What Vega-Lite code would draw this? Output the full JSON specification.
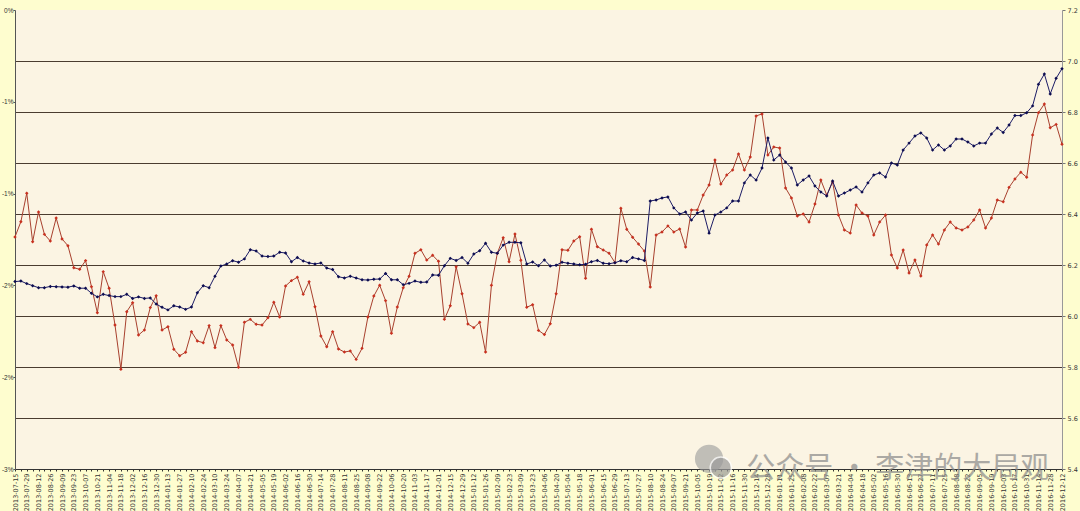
{
  "$schema": "https://vega.github.io/schema/vega-lite/v6.json",
  "width": 1047,
  "height": 459,
  "autosize": {"type": "none"},
  "padding": {"left": 15, "top": 10, "right": 18, "bottom": 42},
  "background": "#fefdcf",
  "config": {
    "view": {"fill": "#fbf4e3", "stroke": null},
    "axis": {"title": null, "labelFont": "DejaVu Sans", "labelFontSize": 6.5, "labelColor": "#333333", "domainColor": "#555555", "tickColor": "#555555", "tickSize": 3, "labelPadding": 2}
  },
  "data": {"values": [
    {"d":"2013-07-15","c":6.135,"r":-1.236},{"d":"2013-07-22","c":6.137,"r":-1.153},{"d":"2013-07-29","c":6.127,"r":-0.998},{"d":"2013-08-05","c":6.119,"r":-1.262},{"d":"2013-08-12","c":6.111,"r":-1.100},
    {"d":"2013-08-19","c":6.111,"r":-1.222},{"d":"2013-08-26","c":6.116,"r":-1.258},{"d":"2013-09-02","c":6.115,"r":-1.133},{"d":"2013-09-09","c":6.114,"r":-1.247},{"d":"2013-09-16","c":6.113,"r":-1.284},
    {"d":"2013-09-23","c":6.118,"r":-1.404},{"d":"2013-09-30","c":6.109,"r":-1.412},{"d":"2013-10-07","c":6.109,"r":-1.365},{"d":"2013-10-14","c":6.089,"r":-1.507},{"d":"2013-10-21","c":6.075,"r":-1.649},
    {"d":"2013-10-28","c":6.085,"r":-1.425},{"d":"2013-11-04","c":6.080,"r":-1.516},{"d":"2013-11-11","c":6.076,"r":-1.716},{"d":"2013-11-18","c":6.076,"r":-1.957},{"d":"2013-11-25","c":6.085,"r":-1.643},
    {"d":"2013-12-02","c":6.069,"r":-1.594},{"d":"2013-12-09","c":6.075,"r":-1.770},{"d":"2013-12-16","c":6.069,"r":-1.743},{"d":"2013-12-23","c":6.071,"r":-1.621},{"d":"2013-12-30","c":6.047,"r":-1.556},
    {"d":"2014-01-06","c":6.034,"r":-1.743},{"d":"2014-01-13","c":6.024,"r":-1.725},{"d":"2014-01-20","c":6.040,"r":-1.848},{"d":"2014-01-27","c":6.035,"r":-1.883},{"d":"2014-02-03","c":6.026,"r":-1.864},
    {"d":"2014-02-10","c":6.035,"r":-1.752},{"d":"2014-02-17","c":6.091,"r":-1.803},{"d":"2014-02-24","c":6.119,"r":-1.812},{"d":"2014-03-03","c":6.111,"r":-1.719},{"d":"2014-03-10","c":6.156,"r":-1.839},
    {"d":"2014-03-17","c":6.196,"r":-1.719},{"d":"2014-03-24","c":6.204,"r":-1.797},{"d":"2014-03-31","c":6.217,"r":-1.825},{"d":"2014-04-07","c":6.211,"r":-1.946},{"d":"2014-04-14","c":6.224,"r":-1.701},
    {"d":"2014-04-21","c":6.260,"r":-1.685},{"d":"2014-04-28","c":6.255,"r":-1.712},{"d":"2014-05-05","c":6.235,"r":-1.716},{"d":"2014-05-12","c":6.233,"r":-1.676},{"d":"2014-05-19","c":6.235,"r":-1.592},
    {"d":"2014-05-26","c":6.250,"r":-1.672},{"d":"2014-06-02","c":6.247,"r":-1.503},{"d":"2014-06-09","c":6.213,"r":-1.474},{"d":"2014-06-16","c":6.229,"r":-1.456},{"d":"2014-06-23","c":6.216,"r":-1.548},
    {"d":"2014-06-30","c":6.208,"r":-1.480},{"d":"2014-07-07","c":6.204,"r":-1.616},{"d":"2014-07-14","c":6.208,"r":-1.776},{"d":"2014-07-21","c":6.188,"r":-1.834},{"d":"2014-07-28","c":6.182,"r":-1.752},
    {"d":"2014-08-04","c":6.154,"r":-1.846},{"d":"2014-08-11","c":6.149,"r":-1.863},{"d":"2014-08-18","c":6.156,"r":-1.857},{"d":"2014-08-25","c":6.149,"r":-1.903},{"d":"2014-09-01","c":6.142,"r":-1.843},
    {"d":"2014-09-08","c":6.141,"r":-1.672},{"d":"2014-09-15","c":6.144,"r":-1.558},{"d":"2014-09-22","c":6.145,"r":-1.499},{"d":"2014-09-29","c":6.167,"r":-1.583},{"d":"2014-10-06","c":6.142,"r":-1.761},
    {"d":"2014-10-13","c":6.142,"r":-1.618},{"d":"2014-10-20","c":6.123,"r":-1.513},{"d":"2014-10-27","c":6.128,"r":-1.450},{"d":"2014-11-03","c":6.137,"r":-1.325},{"d":"2014-11-10","c":6.132,"r":-1.306},
    {"d":"2014-11-17","c":6.133,"r":-1.362},{"d":"2014-11-24","c":6.161,"r":-1.336},{"d":"2014-12-01","c":6.160,"r":-1.369},{"d":"2014-12-08","c":6.197,"r":-1.685},{"d":"2014-12-15","c":6.226,"r":-1.611},
    {"d":"2014-12-22","c":6.218,"r":-1.398},{"d":"2014-12-29","c":6.229,"r":-1.545},{"d":"2015-01-05","c":6.207,"r":-1.710},{"d":"2015-01-12","c":6.243,"r":-1.730},{"d":"2015-01-19","c":6.256,"r":-1.701},
    {"d":"2015-01-26","c":6.285,"r":-1.863},{"d":"2015-02-02","c":6.250,"r":-1.499},{"d":"2015-02-09","c":6.246,"r":-1.325},{"d":"2015-02-16","c":6.278,"r":-1.240},{"d":"2015-02-23","c":6.289,"r":-1.371},
    {"d":"2015-03-02","c":6.289,"r":-1.220},{"d":"2015-03-09","c":6.287,"r":-1.363},{"d":"2015-03-16","c":6.204,"r":-1.619},{"d":"2015-03-23","c":6.212,"r":-1.605},{"d":"2015-03-30","c":6.197,"r":-1.745},
    {"d":"2015-04-06","c":6.220,"r":-1.768},{"d":"2015-04-13","c":6.196,"r":-1.709},{"d":"2015-04-20","c":6.199,"r":-1.545},{"d":"2015-04-27","c":6.211,"r":-1.306},{"d":"2015-05-04","c":6.207,"r":-1.309},
    {"d":"2015-05-11","c":6.204,"r":-1.258},{"d":"2015-05-18","c":6.201,"r":-1.235},{"d":"2015-05-25","c":6.203,"r":-1.461},{"d":"2015-06-01","c":6.213,"r":-1.194},{"d":"2015-06-08","c":6.218,"r":-1.289},
    {"d":"2015-06-15","c":6.207,"r":-1.307},{"d":"2015-06-22","c":6.205,"r":-1.325},{"d":"2015-06-29","c":6.209,"r":-1.376},{"d":"2015-07-06","c":6.217,"r":-1.080},{"d":"2015-07-13","c":6.213,"r":-1.194},
    {"d":"2015-07-20","c":6.229,"r":-1.238},{"d":"2015-07-27","c":6.224,"r":-1.275},{"d":"2015-08-03","c":6.218,"r":-1.313},{"d":"2015-08-10","c":6.451,"r":-1.509},{"d":"2015-08-17","c":6.455,"r":-1.225},
    {"d":"2015-08-24","c":6.463,"r":-1.209},{"d":"2015-08-31","c":6.467,"r":-1.176},{"d":"2015-09-07","c":6.424,"r":-1.209},{"d":"2015-09-14","c":6.400,"r":-1.193},{"d":"2015-09-21","c":6.408,"r":-1.291},
    {"d":"2015-09-28","c":6.376,"r":-1.089},{"d":"2015-10-05","c":6.404,"r":-1.089},{"d":"2015-10-12","c":6.412,"r":-1.008},{"d":"2015-10-19","c":6.325,"r":-0.953},{"d":"2015-10-26","c":6.396,"r":-0.817},
    {"d":"2015-11-02","c":6.408,"r":-0.948},{"d":"2015-11-09","c":6.424,"r":-0.899},{"d":"2015-11-16","c":6.451,"r":-0.871},{"d":"2015-11-23","c":6.451,"r":-0.784},{"d":"2015-11-30","c":6.522,"r":-0.871},
    {"d":"2015-12-07","c":6.553,"r":-0.801},{"d":"2015-12-14","c":6.533,"r":-0.577},{"d":"2015-12-21","c":6.580,"r":-0.566},{"d":"2015-12-28","c":6.698,"r":-0.790},{"d":"2016-01-04","c":6.612,"r":-0.746},
    {"d":"2016-01-11","c":6.631,"r":-0.752},{"d":"2016-01-18","c":6.604,"r":-0.969},{"d":"2016-01-25","c":6.580,"r":-1.024},{"d":"2016-02-01","c":6.514,"r":-1.122},{"d":"2016-02-08","c":6.533,"r":-1.111},
    {"d":"2016-02-15","c":6.549,"r":-1.155},{"d":"2016-02-22","c":6.510,"r":-1.057},{"d":"2016-02-29","c":6.486,"r":-0.926},{"d":"2016-03-07","c":6.471,"r":-1.008},{"d":"2016-03-14","c":6.529,"r":-0.937},
    {"d":"2016-03-21","c":6.471,"r":-1.117},{"d":"2016-03-28","c":6.482,"r":-1.198},{"d":"2016-04-04","c":6.494,"r":-1.215},{"d":"2016-04-11","c":6.506,"r":-1.062},{"d":"2016-04-18","c":6.486,"r":-1.106},
    {"d":"2016-04-25","c":6.522,"r":-1.122},{"d":"2016-05-02","c":6.553,"r":-1.225},{"d":"2016-05-09","c":6.561,"r":-1.155},{"d":"2016-05-16","c":6.545,"r":-1.117},{"d":"2016-05-23","c":6.600,"r":-1.334},
    {"d":"2016-05-30","c":6.592,"r":-1.405},{"d":"2016-06-06","c":6.651,"r":-1.307},{"d":"2016-06-13","c":6.678,"r":-1.432},{"d":"2016-06-20","c":6.706,"r":-1.362},{"d":"2016-06-27","c":6.718,"r":-1.449},
    {"d":"2016-07-04","c":6.698,"r":-1.280},{"d":"2016-07-11","c":6.651,"r":-1.225},{"d":"2016-07-18","c":6.671,"r":-1.275},{"d":"2016-07-25","c":6.651,"r":-1.198},{"d":"2016-08-01","c":6.667,"r":-1.155},
    {"d":"2016-08-08","c":6.694,"r":-1.187},{"d":"2016-08-15","c":6.694,"r":-1.198},{"d":"2016-08-22","c":6.682,"r":-1.182},{"d":"2016-08-29","c":6.667,"r":-1.144},{"d":"2016-09-05","c":6.678,"r":-1.089},
    {"d":"2016-09-12","c":6.678,"r":-1.187},{"d":"2016-09-19","c":6.714,"r":-1.133},{"d":"2016-09-26","c":6.737,"r":-1.035},{"d":"2016-10-03","c":6.720,"r":-1.044},{"d":"2016-10-10","c":6.749,"r":-0.966},
    {"d":"2016-10-17","c":6.786,"r":-0.920},{"d":"2016-10-24","c":6.786,"r":-0.884},{"d":"2016-10-31","c":6.797,"r":-0.911},{"d":"2016-11-07","c":6.824,"r":-0.681},{"d":"2016-11-14","c":6.909,"r":-0.559},
    {"d":"2016-11-21","c":6.949,"r":-0.512},{"d":"2016-11-28","c":6.871,"r":-0.641},{"d":"2016-12-05","c":6.932,"r":-0.623},{"d":"2016-12-12","c":6.970,"r":-0.731}
  ]},
  "encoding": {
    "x": {
      "field": "d", "type": "ordinal", "sort": null,
      "scale": {"type": "point", "padding": 0},
      "axis": {
        "labelAngle": -90, "labelOverlap": false, "labelBound": false, "tickSize": 2,
        "domainColor": "#333333", "tickColor": "#333333",
        "labelExpr": "(round((toDate(datum.value) - toDate('2013-07-15')) / 604800000) % 2 == 0) ? datum.value : ''"
      }
    }
  },
  "layer": [
    {
      "encoding": {
        "y": {
          "field": "r", "type": "quantitative",
          "scale": {"domain": [-2.5, 0], "nice": false, "zero": false},
          "axis": {"orient": "left", "values": [0, -0.5, -1, -1.5, -2, -2.5], "grid": false,
                   "labelFont": "Liberation Sans", "labelFontSize": 6.5, "tickSize": 2, "labelPadding": 0,
                   "labelExpr": "datum.value == 0 ? '0%' : '-' + round(-datum.value + 0.01) + '%'"}
        }
      },
      "layer": [
        {"mark": {"type": "line", "color": "#a8402e", "strokeWidth": 1}},
        {"mark": {"type": "point", "shape": "diamond", "filled": true, "size": 12, "color": "#c8301f", "opacity": 1}}
      ]
    },
    {
      "encoding": {
        "y": {
          "field": "c", "type": "quantitative",
          "scale": {"domain": [5.4, 7.2], "nice": false, "zero": false},
          "axis": {"orient": "right", "values": [5.4, 5.6, 5.8, 6.0, 6.2, 6.4, 6.6, 6.8, 7.0, 7.2], "format": ".1f",
                   "domainColor": "#999999", "tickColor": "#777777",
                   "grid": true, "gridColor": "#4a3c30", "gridWidth": 1,
                   "gridOpacity": {"condition": {"test": "datum.value > 7.1 || datum.value < 5.5", "value": 0}, "value": 1}}
        }
      },
      "layer": [
        {"mark": {"type": "line", "color": "#1c1c66", "strokeWidth": 1}},
        {"mark": {"type": "point", "shape": "diamond", "filled": true, "size": 12, "color": "#0c0c50", "opacity": 1}},
        {
          "transform": [{"filter": "datum.d == '2015-10-19'"}],
          "mark": {"type": "point", "shape": "circle", "filled": true, "size": 800, "color": "#9a9a9a", "opacity": 0.6},
          "encoding": {"y": {"datum": 5.44}}
        },
        {
          "transform": [{"filter": "datum.d == '2015-11-02'"}],
          "mark": {"type": "point", "shape": "circle", "filled": true, "size": 450, "color": "#9a9a9a", "opacity": 0.7, "stroke": "#ffffff", "strokeWidth": 1.5},
          "encoding": {"y": {"datum": 5.405}}
        },
        {
          "transform": [{"filter": "datum.d == '2015-11-30'"}],
          "mark": {"type": "text", "align": "left", "baseline": "middle", "font": "Noto Sans CJK SC", "fontSize": 29, "color": "#8a8a8a", "opacity": 0.7, "dx": 2},
          "encoding": {"y": {"datum": 5.40}, "text": {"value": "公众号 · 李津的大局观"}}
        }
      ]
    }
  ],
  "resolve": {"scale": {"y": "independent"}}
}
